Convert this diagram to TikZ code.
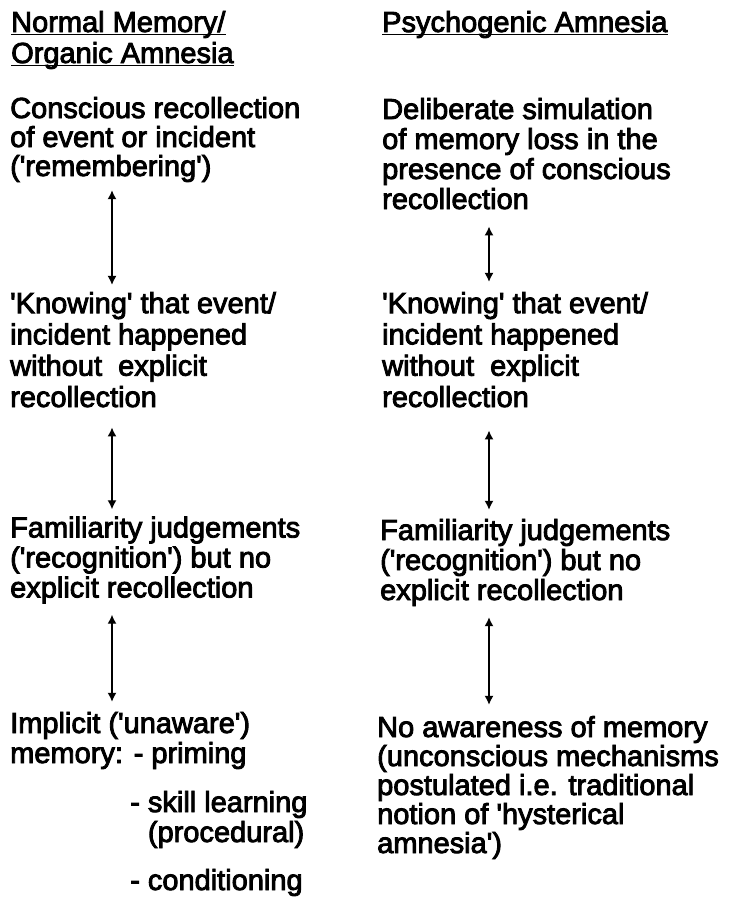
\documentclass[tikz,border=0pt]{standalone}
\usepackage{fontspec}
\setmainfont{Liberation Sans}
\newfontfamily\diagfont{Liberation Sans}[FakeBold=3]
\usetikzlibrary{arrows.meta}
\newcommand{\sq}{\textquotesingle}
\tikzset{
  txt/.style={anchor=base west, align=left, inner sep=0pt, font=\diagfont\fontsize{29}{30}\selectfont},
  wide/.style={font=\diagfont\fontsize{29}{31.3}\selectfont},
  tight/.style={font=\diagfont\fontsize{29}{29}\selectfont},
  twoway/.style={{Latex[length=9pt,width=9pt]}-{Latex[length=9pt,width=9pt]}, line width=1.4pt},
  uline/.style={line width=1.7pt}
}
\begin{document}
\begin{tikzpicture}[x=1pt, y=-1pt]
\useasboundingbox (0,0) rectangle (730,902);
% headings
\node[txt] (h1) at (11,32) {Normal Memory/};
\node[txt] (h2) at (11,63) {Organic Amnesia};
\node[txt] (h3) at (382,32) {Psychogenic Amnesia};
\foreach \h in {h1,h2,h3}
  \draw[uline] ([yshift=-2.5pt]\h.base west) -- ([yshift=-2.5pt]\h.base east);
% left column (placed at the baseline of the last line)
\node[txt, tight] (l1) at (10,176) {Conscious recollection\\of event or incident\\(\sq remembering\sq)};
\node[txt, wide] (l2) at (10,407) {\sq Knowing\sq{} that event/\\incident happened\\without\ \ explicit\\recollection};
\node[txt] (l3) at (10,597.5) {Familiarity judgements\\(\sq recognition\sq) but no\\explicit recollection};
\node[txt] (l4) at (10,763) {Implicit (\sq unaware\sq)\\memory: - priming};
\node[txt] (l5) at (130,842) {- skill learning\\\phantom{- }(procedural)};
\node[txt] (l6) at (130,890) {- conditioning};
% right column
\node[txt] (r1) at (382,209) {Deliberate simulation\\of memory loss in the\\presence of conscious\\recollection};
\node[txt, wide] (r2) at (382,407) {\sq Knowing\sq{} that event/\\incident happened\\without\ \ explicit\\recollection};
\node[txt] (r3) at (380,600) {Familiarity judgements\\(\sq recognition\sq) but no\\explicit recollection};
\node[txt, tight] (r4) at (377,853) {No awareness of memory\\(unconscious mechanisms\\postulated i.e. traditional\\notion of \sq hysterical\\amnesia\sq)};
% arrows
\coordinate (lx) at (112,0);
\coordinate (rx) at (489,0);
\draw[twoway, shorten <=8pt, shorten >=7pt] (l1.south -| lx) -- (l2.north -| lx);
\draw[twoway, shorten <=20pt, shorten >=7pt] (l2.south -| lx) -- (l3.north -| lx);
\draw[twoway, shorten <=11pt, shorten >=10pt] (l3.south -| lx) -- (l4.north -| lx);
\draw[twoway, shorten <=17pt, shorten >=10pt] (r1.south -| rx) -- (r2.north -| rx);
\draw[twoway, shorten <=23pt, shorten >=9pt] (r2.south -| rx) -- (r3.north -| rx);
\draw[twoway, shorten <=11pt, shorten >=11pt] (r3.south -| rx) -- (r4.north -| rx);
\end{tikzpicture}
\end{document}
